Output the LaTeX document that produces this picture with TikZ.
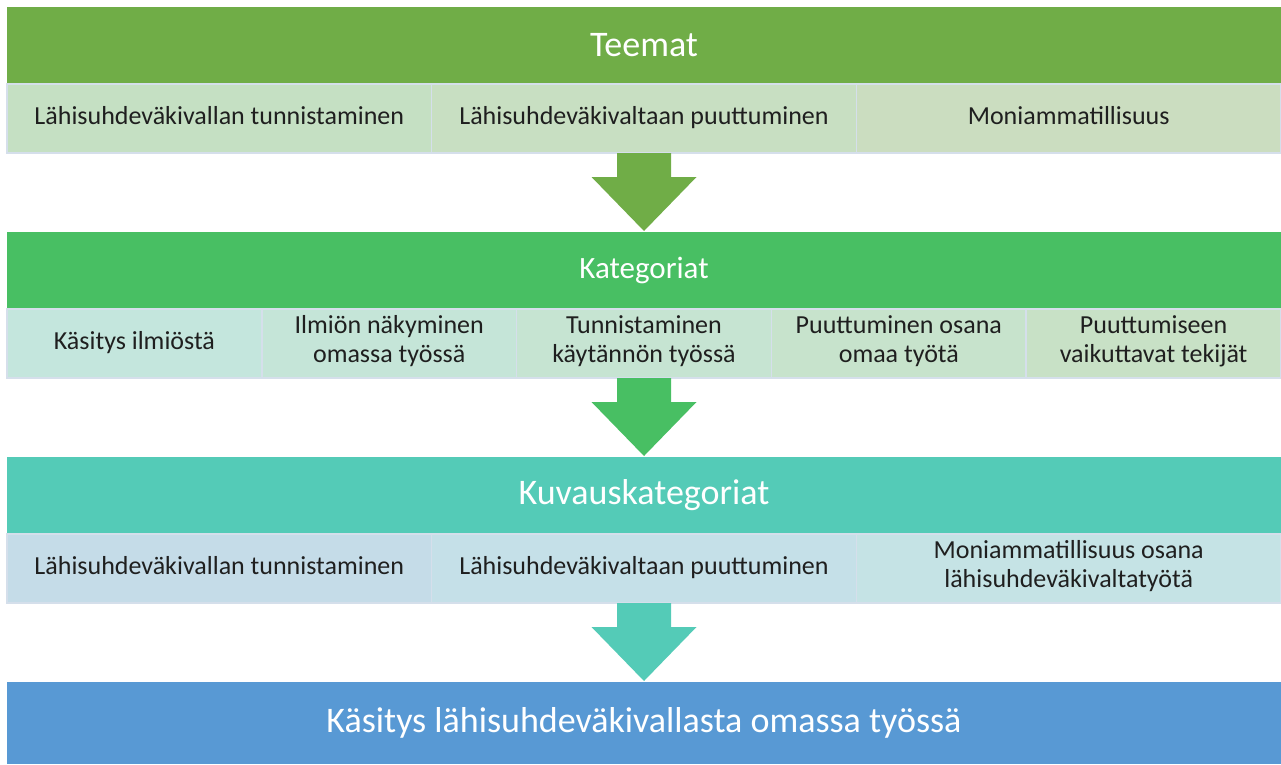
\documentclass[tikz,border=0pt]{standalone}
\usepackage{fontspec}
\setmainfont{Carlito}
\usetikzlibrary{positioning, calc}

% --- Colours ---
\definecolor{teemagreen}{HTML}{70AD47}
\definecolor{katgreen}{HTML}{48BF63}
\definecolor{kuvteal}{HTML}{54CBB7}
\definecolor{finalblue}{HTML}{5899D4}
\definecolor{cellline}{HTML}{D5DFEB}

\begin{document}
\begin{tikzpicture}[x=1pt, y=-1pt,
    bar/.style={rectangle, minimum width=1274pt, minimum height=77pt,
        inner sep=0pt, outer sep=0pt, text=white,
        font=\fontsize{36}{42}\selectfont},
    cell/.style={rectangle, draw=cellline, line width=1.5pt,
        minimum height=69pt, inner sep=0pt, outer sep=0pt, align=center,
        text=black!88, font=\fontsize{26}{29}\selectfont,
        execute at begin node=\strut, execute at end node=\strut},
    third/.style={cell, minimum width=424.67pt},
    fifth/.style={cell, minimum width=254.8pt},
]

    \useasboundingbox (0,0) rectangle (1281,764);

    % --- Teemat ---
    \node[bar, fill=teemagreen, anchor=north west] (teemat) at (7,7) {Teemat};
    \node[third, fill={rgb,255:red,197;green,224;blue,195}, anchor=north west]
        (t1) at (teemat.south west) {Lähisuhdeväkivallan tunnistaminen};
    \node[third, fill={rgb,255:red,200;green,223;blue,194}, right=0pt of t1]
        (t2) {Lähisuhdeväkivaltaan puuttuminen};
    \node[third, fill={rgb,255:red,203;green,221;blue,192}, right=0pt of t2]
        (t3) {Moniammatillisuus};

    % --- Kategoriat ---
    \node[bar, fill=katgreen, anchor=north west, font=\fontsize{31}{36}\selectfont]
        (kat) at (7,232) {Kategoriat};
    \node[fifth, fill={rgb,255:red,196;green,230;blue,221}, anchor=north west]
        (k1) at (kat.south west) {Käsitys ilmiöstä};
    \node[fifth, fill={rgb,255:red,197;green,229;blue,216}, right=0pt of k1]
        (k2) {Ilmiön näkyminen\\omassa työssä};
    \node[fifth, fill={rgb,255:red,198;green,228;blue,210}, right=0pt of k2]
        (k3) {Tunnistaminen\\käytännön työssä};
    \node[fifth, fill={rgb,255:red,199;green,227;blue,204}, right=0pt of k3]
        (k4) {Puuttuminen osana\\omaa työtä};
    \node[fifth, fill={rgb,255:red,200;green,225;blue,198}, right=0pt of k4]
        (k5) {Puuttumiseen\\vaikuttavat tekijät};

    % --- Kuvauskategoriat ---
    \node[bar, fill=kuvteal, anchor=north west] (kuv) at (7,457) {Kuvauskategoriat};
    \node[third, fill={rgb,255:red,197;green,220;blue,232}, anchor=north west]
        (u1) at (kuv.south west) {Lähisuhdeväkivallan tunnistaminen};
    \node[third, fill={rgb,255:red,197;green,224;blue,232}, right=0pt of u1]
        (u2) {Lähisuhdeväkivaltaan puuttuminen};
    \node[third, fill={rgb,255:red,197;green,227;blue,229}, right=0pt of u2]
        (u3) {Moniammatillisuus osana\\lähisuhdeväkivaltatyötä};

    % --- Result ---
    \node[bar, fill=finalblue, anchor=north west, minimum height=82pt]
        (kasitys) at (7,682) {Käsitys lähisuhdeväkivallasta omassa työssä};

    % --- Block arrows between the levels ---
    \foreach \a/\b/\c in {t2/kat/teemagreen, k3/kuv/katgreen, u2/kasitys/kuvteal}
        \fill[\c] ($(\a.south)+(-27,0)$) -- ++(0,24) -- ++(-25.5,0)
            -- ($(\b.north)+(0,-1)$) -- ($(\a.south)+(52.5,24)$)
            -- ++(-25.5,0) -- ++(0,-24) -- cycle;

\end{tikzpicture}
\end{document}
